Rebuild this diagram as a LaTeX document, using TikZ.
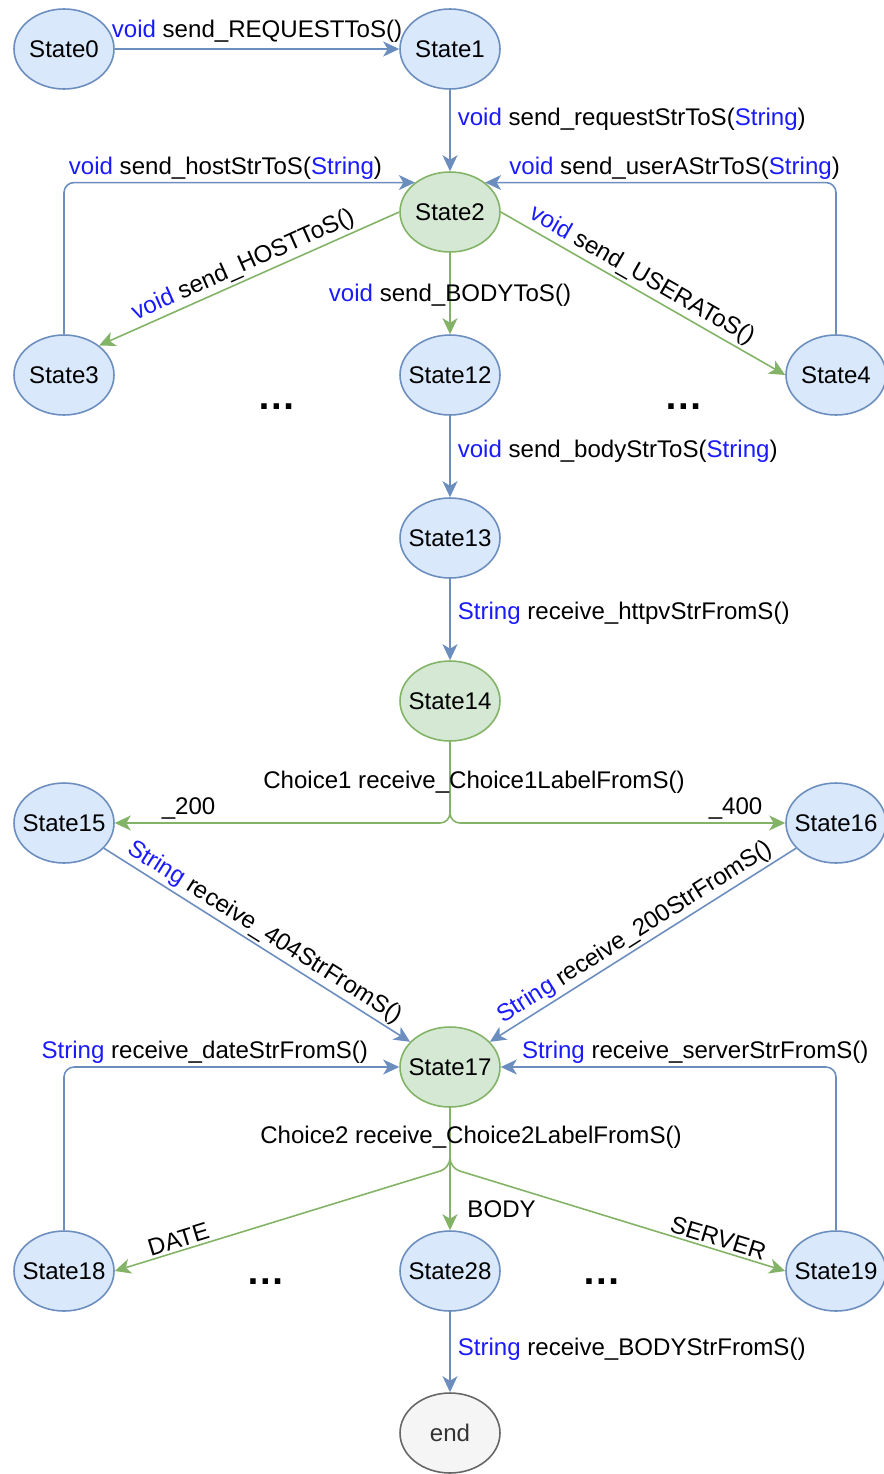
\documentclass[tikz,border=0pt]{standalone}
\usepackage{fontspec}
\setmainfont{Liberation Sans}
\usepackage{tikz}
\usetikzlibrary{arrows.meta, shapes.geometric, calc}
\definecolor{stateBlue}{HTML}{DAE8FC}
\definecolor{lineBlue}{HTML}{6C8EBF}
\definecolor{stateGreen}{HTML}{D5E8D4}
\definecolor{lineGreen}{HTML}{82B366}
\definecolor{stateGray}{HTML}{F5F5F5}
\definecolor{lineGray}{HTML}{666666}
\definecolor{textGray}{HTML}{333333}
\definecolor{kwBlue}{RGB}{26,26,255}
\newcommand{\kw}[1]{\textcolor{kwBlue}{#1}}

\begin{document}
\begin{tikzpicture}[x=0.02cm, y=-0.02cm,
    font=\fontsize{13.7}{16}\selectfont,
    state/.style={ellipse, draw=lineBlue, fill=stateBlue, line width=0.9pt,
        minimum width=2cm, minimum height=1.6cm, inner ysep=0pt, inner xsep=-8pt},
    gstate/.style={state, draw=lineGreen, fill=stateGreen},
    endstate/.style={state, draw=lineGray, fill=stateGray, text=textGray},
    blueedge/.style={color=lineBlue, line width=0.9pt, rounded corners=0.2cm,
        -{Stealth[length=0.32cm, width=0.3cm, inset=0.09cm]}},
    greenedge/.style={blueedge, color=lineGreen},
    lbl/.style={inner sep=1.5pt, text=black},
    dots/.style={font=\fontsize{22}{26}\selectfont\bfseries, anchor=base, inner sep=0pt}]
    \useasboundingbox (0,0) rectangle (883,1474);

    % States
    \node[state]  (S0)  at (64,49)    {State0};
    \node[state]  (S1)  at (450,49)   {State1};
    \node[gstate] (S2)  at (450,212)  {State2};
    \node[state]  (S3)  at (64,375)   {State3};
    \node[state]  (S12) at (450,375)  {State12};
    \node[state]  (S4)  at (836,375)  {State4};
    \node[state]  (S13) at (450,538)  {State13};
    \node[gstate] (S14) at (450,701)  {State14};
    \node[state]  (S15) at (64,823)   {State15};
    \node[state]  (S16) at (836,823)  {State16};
    \node[gstate] (S17) at (450,1067) {State17};
    \node[state]  (S18) at (64,1271)  {State18};
    \node[state]  (S28) at (450,1271) {State28};
    \node[state]  (S19) at (836,1271) {State19};
    \node[endstate] (E) at (450,1433) {end};

    \node[dots] (more1) at (277,409)  {…};
    \node[dots] (more2) at (684,409)  {…};
    \node[dots] (more3) at (266,1284) {…};
    \node[dots] (more4) at (602,1284) {…};

    % Send part
    \draw[blueedge] (S0) -- node[lbl, above=2pt]{\kw{void} send\_REQUESTToS()} (S1);
    \draw[blueedge] (S1) -- node[lbl, right=2.5pt, pos=0.36]{\kw{void} send\_requestStrToS(\kw{String})} (S2);
    \draw[blueedge] (S3.north) |- node[lbl, above, pos=0.73]{\kw{void} send\_hostStrToS(\kw{String})} (S2.140);
    \draw[blueedge] (S4.north) |- node[lbl, above, pos=0.73]{\kw{void} send\_userAStrToS(\kw{String})} (S2.40);
    \draw[greenedge] (S2.west) -- node[lbl, above, sloped]{\kw{void} send\_HOSTToS()} (S3.40);
    \draw[greenedge] (S2) -- node[lbl, pos=0.52]{\kw{void} send\_BODYToS()} (S12);
    \draw[greenedge] (S2.east) -- node[lbl, above, sloped, pos=0.47]{\kw{void} send\_USERAToS()} (S4.west);
    \draw[blueedge] (S12) -- node[lbl, right=2.5pt, pos=0.43]{\kw{void} send\_bodyStrToS(\kw{String})} (S13);
    \draw[blueedge] (S13) -- node[lbl, right=2.5pt, pos=0.42]{\kw{String} receive\_httpvStrFromS()} (S14);

    % Choice1
    \draw[greenedge] (S14.south) |- node[lbl, above, pos=0.89]{\_200} (S15.east);
    \draw[greenedge] (S14.south) |- node[lbl, above, pos=0.926]{\_400} (S16.west);
    \node[lbl] (choice1) at (474,782) {Choice1 receive\_Choice1LabelFromS()};

    % Receive part
    \draw[blueedge] (S15) -- node[lbl, above, sloped]{\kw{String} receive\_404StrFromS()} (S17);
    \draw[blueedge] (S16) -- node[lbl, above, sloped]{\kw{String} receive\_200StrFromS()} (S17);
    \draw[blueedge] (S18.north) |- node[lbl, above, pos=0.71]{\kw{String} receive\_dateStrFromS()} (S17.west);
    \draw[blueedge] (S19.north) |- node[lbl, above, pos=0.71]{\kw{String} receive\_serverStrFromS()} (S17.east);

    % Choice2
    \coordinate (split2) at (450,1168);
    \draw[greenedge] (S17.south) -- (split2) -- node[lbl, above, sloped, pos=0.8]{DATE} (S18.east);
    \draw[greenedge] (S17) -- node[lbl, right=8pt, pos=0.83]{BODY} (S28);
    \draw[greenedge] (S17.south) -- (split2) -- node[lbl, above, sloped, pos=0.79]{SERVER} (S19.west);
    \node[lbl] (choice2) at (471,1137) {Choice2 receive\_Choice2LabelFromS()};

    \draw[blueedge] (S28) -- node[lbl, right=2.5pt, pos=0.46]{\kw{String} receive\_BODYStrFromS()} (E);
\end{tikzpicture}
\end{document}
